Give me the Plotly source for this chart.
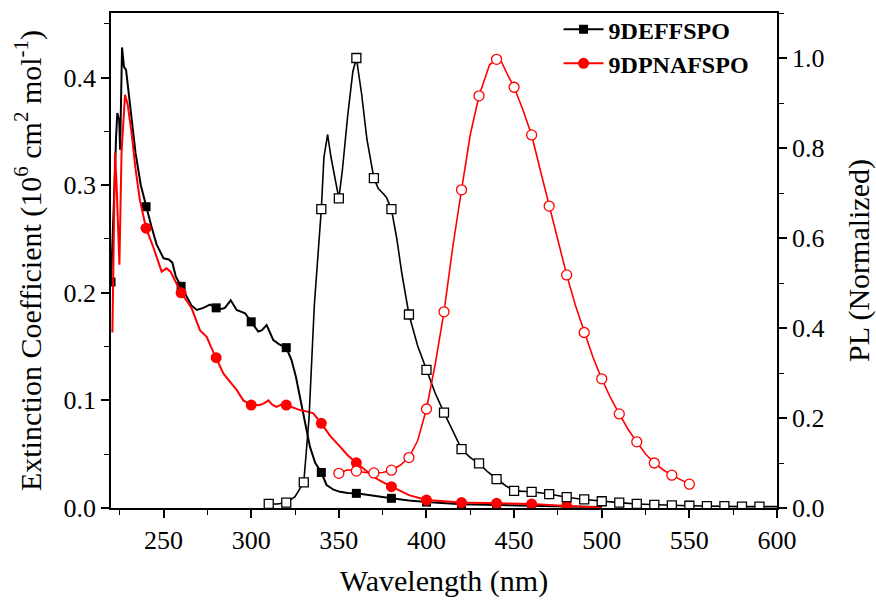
import plotly.graph_objects as go

# ---------------- data ----------------
abs1_wl = [220, 221, 222, 222.9, 223.6, 224.7, 225.2, 226.3, 227.4, 228.6, 231, 234, 237, 240, 243, 246,
           250, 253, 255, 257, 260, 263, 266, 269, 272.7, 276.5, 280, 283, 285, 288.3, 291.7, 296.5,
           300, 304, 306, 308.8, 312.6, 316, 320, 323, 325.5, 327.8, 330.5, 333.5, 336.5, 340, 343,
           347, 350.7, 355, 360, 370, 380, 390, 400, 420, 440, 460, 480, 500]
abs1_val = [0.21, 0.25, 0.30, 0.345, 0.367, 0.36, 0.333, 0.428, 0.410, 0.407, 0.37, 0.33, 0.30, 0.280, 0.262, 0.245,
            0.232, 0.231, 0.228, 0.215, 0.206, 0.196, 0.188, 0.184, 0.186, 0.189, 0.186, 0.185, 0.186, 0.193, 0.184, 0.181,
            0.173, 0.164, 0.165, 0.170, 0.156, 0.152, 0.149, 0.1375, 0.122, 0.103, 0.080, 0.057, 0.042, 0.033, 0.0214,
            0.017, 0.015, 0.014, 0.0136, 0.011, 0.009, 0.007, 0.0055, 0.0035, 0.0025, 0.002, 0.0015, 0.001]
abs1_marks = [220, 240, 260, 280, 300, 320, 340, 360, 380, 400, 420, 440, 460, 480]

abs2_wl = [220.8, 222.3, 223.2, 224.8, 226, 228, 229.5, 231.8, 234, 236.5, 240, 244, 248.9, 251.7, 254, 257,
           260, 263, 266, 270.8, 274.6, 277, 280, 284.1, 287, 291.7, 295.5, 300, 305, 307.5, 309.8, 312,
           314.5, 317, 320, 324, 327.8, 331, 335.4, 340, 345, 350.7, 355, 360, 365, 369.7, 375, 380,
           390, 400, 410, 420, 440, 460, 480, 500]
abs2_val = [0.163, 0.33, 0.30, 0.226, 0.33, 0.384, 0.375, 0.348, 0.315, 0.286, 0.26, 0.243, 0.2196, 0.2227, 0.2196, 0.21,
            0.200, 0.193, 0.1856, 0.165, 0.159, 0.15, 0.1397, 0.125, 0.119, 0.1097, 0.100, 0.0957, 0.0957, 0.0975, 0.100, 0.096,
            0.094, 0.096, 0.0957, 0.093, 0.091, 0.090, 0.088, 0.0787, 0.067, 0.057, 0.049, 0.042, 0.035, 0.029, 0.024, 0.0198,
            0.012, 0.0074, 0.006, 0.005, 0.0044, 0.0037, 0.0019, 0.0005]
abs2_marks = [240, 260, 280, 300, 320, 340, 360, 380, 400, 420, 440, 460, 480]

pl1_wl = [310, 315, 320, 325, 330, 333, 336, 340, 341.5, 343.6, 345.5, 350, 352, 355, 358, 360, 363, 366,
          370, 372.5, 375, 377.2, 380, 383, 386, 390, 395, 400, 405, 410, 415, 420, 425, 430, 435, 440,
          445, 450, 460, 470, 480, 490, 500, 510, 520, 530, 540, 550, 560, 570, 580, 590, 600]
pl1_val = [0.009, 0.009, 0.012, 0.025, 0.057, 0.2, 0.45, 0.664, 0.78, 0.83, 0.78, 0.688, 0.75, 0.87, 0.97, 1.0, 0.92, 0.82,
           0.733, 0.71, 0.70, 0.69, 0.664, 0.6, 0.52, 0.43, 0.36, 0.307, 0.255, 0.212, 0.17, 0.131, 0.112, 0.099, 0.08, 0.064,
           0.05, 0.038, 0.036, 0.031, 0.024, 0.019, 0.015, 0.012, 0.009, 0.007, 0.006, 0.005, 0.004, 0.004, 0.003, 0.003, 0.003]
pl1_marks = list(range(310, 600, 10))

pl2_wl = [350, 355, 360, 365, 370, 375, 380, 385, 390, 395, 400, 405, 410, 415, 420, 425, 430, 433, 436, 440,
          443, 446, 450, 455, 460, 465, 470, 475, 480, 485, 490, 495, 500, 505, 510, 515, 520, 525, 530, 535,
          540, 545, 550]
pl2_val = [0.077, 0.085, 0.082, 0.079, 0.078, 0.079, 0.084, 0.095, 0.112, 0.15, 0.22, 0.32, 0.436, 0.58, 0.707, 0.83, 0.916, 0.95, 0.985, 0.997,
           0.99, 0.965, 0.935, 0.885, 0.829, 0.75, 0.671, 0.59, 0.518, 0.45, 0.39, 0.335, 0.287, 0.245, 0.209, 0.175, 0.147, 0.12, 0.10, 0.085,
           0.073, 0.063, 0.053]
pl2_marks = list(range(350, 560, 10))

names = ["9DEFFSPO", "9DPNAFSPO"]


def idx(wl, marks):
    return [i for i, w in enumerate(wl) if w in marks]


FONT = "Liberation Serif"
fig = go.Figure()

# PL spectra (right axis)
fig.add_trace(go.Scatter(
    x=pl1_wl, y=pl1_val, yaxis="y2", mode="lines+markers", showlegend=False,
    line=dict(color="black", width=1.6),
    marker=dict(symbol="square", size=9, color="white", line=dict(color="black", width=1.3)),
    selectedpoints=idx(pl1_wl, pl1_marks), unselected=dict(marker=dict(opacity=0)),
    selected=dict(marker=dict(opacity=1))))
fig.add_trace(go.Scatter(
    x=pl2_wl, y=pl2_val, yaxis="y2", mode="lines+markers", showlegend=False,
    line=dict(color="red", width=1.6),
    marker=dict(symbol="circle", size=10, color="white", line=dict(color="red", width=1.3)),
    selectedpoints=idx(pl2_wl, pl2_marks), unselected=dict(marker=dict(opacity=0)),
    selected=dict(marker=dict(opacity=1))))

# Absorption (left axis)
fig.add_trace(go.Scatter(
    x=abs1_wl, y=abs1_val, mode="lines+markers", name=names[0],
    line=dict(color="black", width=2),
    marker=dict(symbol="square", size=9, color="black"),
    selectedpoints=idx(abs1_wl, abs1_marks), unselected=dict(marker=dict(opacity=0)),
    selected=dict(marker=dict(opacity=1))))
fig.add_trace(go.Scatter(
    x=abs2_wl, y=abs2_val, mode="lines+markers", name=names[1],
    line=dict(color="red", width=2),
    marker=dict(symbol="circle", size=11, color="red"),
    selectedpoints=idx(abs2_wl, abs2_marks), unselected=dict(marker=dict(opacity=0)),
    selected=dict(marker=dict(opacity=1))))

axis_common = dict(showline=True, linecolor="black", linewidth=1.5, ticks="outside", ticklen=8,
                   tickwidth=1.5, tickcolor="black", showgrid=False, zeroline=False, automargin=False,
                   tickfont=dict(family=FONT, size=26, color="black"))

fig.update_layout(
    width=876, height=600,
    margin=dict(l=111, r=99, t=13, b=92, autoexpand=False),
    paper_bgcolor="white", plot_bgcolor="white",
    font=dict(family=FONT, color="black"),
    xaxis=dict(range=[220, 600], dtick=50, tick0=0, mirror=True,
               minor=dict(ticks="outside", dtick=25, ticklen=5, tickwidth=1.2, tickcolor="black"),
               title=dict(text="Wavelength (nm)", font=dict(family=FONT, size=30), standoff=16),
               **axis_common),
    yaxis=dict(range=[0, 0.46], dtick=0.1, tickformat=".1f",
               minor=dict(ticks="outside", dtick=0.05, ticklen=5, tickwidth=1.2, tickcolor="black"),
               title=dict(text="Extinction Coefficient (10<sup>6</sup> cm<sup>2</sup> mol<sup>-1</sup>)",
                          font=dict(family=FONT, size=30), standoff=13),
               **axis_common),
    yaxis2=dict(range=[0, 1.1], dtick=0.2, tickformat=".1f", overlaying="y", side="right",
                minor=dict(ticks="outside", dtick=0.1, ticklen=5, tickwidth=1.2, tickcolor="black"),
                title=dict(text="PL (Normalized)", font=dict(family=FONT, size=30), standoff=27),
                **axis_common),
    legend=dict(x=0.672, y=1.012, xanchor="left", yanchor="top", bgcolor="rgba(0,0,0,0)",
                font=dict(family=FONT, size=24, color="black", weight="bold"),
                tracegroupgap=0, itemwidth=40),
)

fig.write_html("out.html")
